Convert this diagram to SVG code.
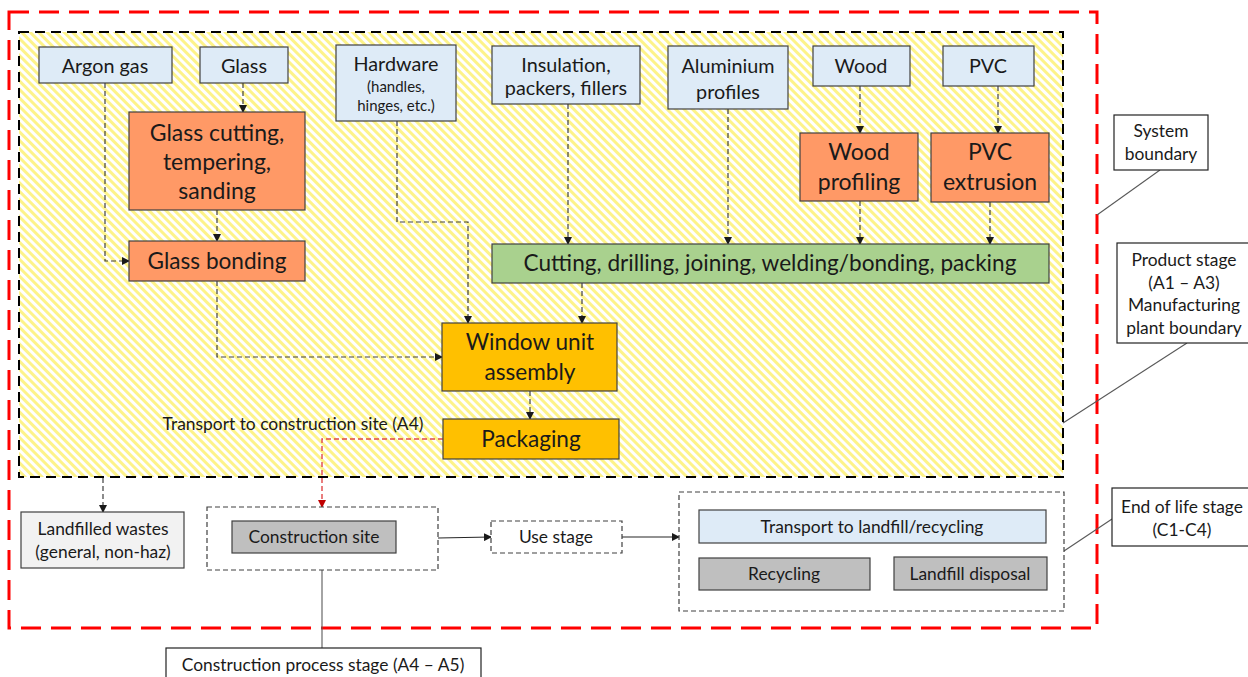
<svg xmlns="http://www.w3.org/2000/svg" width="1248" height="677" viewBox="0 0 1248 677">
<style>
text{font-family:Lato,"Open Sans","Liberation Sans",sans-serif;fill:#1a1a1a;text-anchor:middle;dominant-baseline:central}
.blue{fill:#DEEBF7;stroke:#404040;stroke-width:1.2}
.orange{fill:#FF9966;stroke:#404040;stroke-width:1.2}
.green{fill:#A9D18E;stroke:#404040;stroke-width:1.2}
.gold{fill:#FFC000;stroke:#404040;stroke-width:1.2}
.gray{fill:#BFBFBF;stroke:#404040;stroke-width:1.2}
.lgray{fill:#F2F2F2;stroke:#404040;stroke-width:1.2}
.label{fill:#fff;stroke:#222;stroke-width:1.2}
.grp{fill:#fff;stroke:#404040;stroke-width:1.2;stroke-dasharray:5 3}
.dash{fill:none;stroke:#404040;stroke-width:1.2;stroke-dasharray:5 3;marker-end:url(#ah)}
.red{fill:none;stroke:#E04848;stroke-width:1.4;stroke-dasharray:5 3;marker-end:url(#ahr)}
.solid{fill:none;stroke:#262626;stroke-width:1.2;marker-end:url(#ah)}
.call{fill:none;stroke:#595959;stroke-width:1.1}
.s19{font-size:19.8px}.s23{font-size:23px}.s21{font-size:22.6px}.s16{font-size:17.4px}.s14{font-size:15px}
</style>
<defs>
<pattern id="hatch" patternUnits="userSpaceOnUse" width="6" height="6" patternTransform="rotate(45)">
<rect width="6" height="6" fill="#ffffff"/>
<rect width="6" height="3" fill="#FDF38A"/>
</pattern>
<marker id="ah" markerWidth="8" markerHeight="8" refX="7" refY="4" orient="auto" markerUnits="userSpaceOnUse">
<path d="M0,0 L8,4 L0,8 z" fill="#1a1a1a"/>
</marker>
<marker id="ahr" markerWidth="8" markerHeight="8" refX="7" refY="4" orient="auto" markerUnits="userSpaceOnUse">
<path d="M0,0 L8,4 L0,8 z" fill="#C00000"/>
</marker>
</defs>
<rect width="1248" height="677" fill="#fff"/>
<g id="system-boundary">
<rect x="9" y="12" width="1088" height="616" fill="none" stroke="#FF0000" stroke-width="3" stroke-dasharray="20 10"/>
</g>
<g id="plant-boundary">
<rect x="19" y="32" width="1044" height="445" fill="url(#hatch)" stroke="#000" stroke-width="2" stroke-dasharray="10 6"/>
</g>
<g id="connectors">
<path class="dash" d="M243,83 V112"/>
<path class="dash" d="M105,83 V261 H129"/>
<path class="dash" d="M217,210 V241"/>
<path class="dash" d="M217,281 V357 H442"/>
<path class="dash" d="M397,121 V222 H468 V323"/>
<path class="dash" d="M568,104 V244"/>
<path class="dash" d="M728,109 V244"/>
<path class="dash" d="M860,86 V133"/>
<path class="dash" d="M998,86 V133"/>
<path class="dash" d="M860,201 V244"/>
<path class="dash" d="M990,202 V244"/>
<path class="dash" d="M582,283 V323"/>
<path class="dash" d="M530,391 V419"/>
<path class="red" d="M443,439 H322 V507"/>
<path class="dash" d="M103,478 V512"/>
<path class="solid" d="M438,538 L491,537"/>
<path class="solid" d="M622,537 H679"/>
<path class="call" d="M1160,170 L1097,215"/>
<path class="call" d="M1187,343 L1063,423"/>
<path class="call" d="M1112,519 L1064,551"/>
<path class="call" d="M322,570 V648"/>
</g>
<g id="argon"><rect class="blue" x="39" y="47" width="133" height="36"/><text class="s19" x="105" y="65">Argon gas</text></g>
<g id="glass"><rect class="blue" x="200" y="47" width="88" height="36"/><text class="s19" x="244" y="65">Glass</text></g>
<g id="glass-cutting"><rect class="orange" x="129" y="112" width="176" height="98"/><text class="s23" x="217" y="132">Glass cutting,</text><text class="s23" x="217" y="161">tempering,</text><text class="s23" x="217" y="190">sanding</text></g>
<g id="glass-bonding"><rect class="orange" x="129" y="241" width="176" height="40"/><text class="s21" x="217" y="260">Glass bonding</text></g>
<g id="hardware"><rect class="blue" x="336" y="45" width="120" height="76"/><text class="s19" x="396" y="63">Hardware</text><text class="s14" x="396" y="86">(handles,</text><text class="s14" x="396" y="105">hinges, etc.)</text></g>
<g id="insulation"><rect class="blue" x="492" y="46" width="148" height="58"/><text class="s19" x="566" y="64">Insulation,</text><text class="s19" x="566" y="87">packers, fillers</text></g>
<g id="aluminium"><rect class="blue" x="668" y="46" width="120" height="63"/><text class="s19" x="728" y="65">Aluminium</text><text class="s19" x="728" y="91">profiles</text></g>
<g id="wood"><rect class="blue" x="813" y="46" width="97" height="40"/><text class="s19" x="861" y="65">Wood</text></g>
<g id="pvc"><rect class="blue" x="943" y="46" width="91" height="40"/><text class="s19" x="988" y="65">PVC</text></g>
<g id="wood-profiling"><rect class="orange" x="800" y="133" width="118" height="68"/><text class="s23" x="859" y="151">Wood</text><text class="s23" x="859" y="181">profiling</text></g>
<g id="pvc-extrusion"><rect class="orange" x="931" y="133" width="118" height="69"/><text class="s23" x="990" y="151">PVC</text><text class="s23" x="990" y="181">extrusion</text></g>
<g id="cutting"><rect class="green" x="492" y="244" width="557" height="39"/><text class="s21" x="770" y="262">Cutting, drilling, joining, welding/bonding, packing</text></g>
<g id="window-assembly"><rect class="gold" x="442" y="323" width="175" height="68"/><text class="s21" x="530" y="341">Window unit</text><text class="s21" x="530" y="371">assembly</text></g>
<g id="packaging"><rect class="gold" x="443" y="419" width="176" height="40"/><text class="s21" x="531" y="438">Packaging</text></g>
<g id="transport-label"><text class="s16" x="293" y="423">Transport to construction site (A4)</text></g>
<g id="landfilled"><rect class="lgray" x="21" y="512" width="163" height="56"/><text class="s16" x="103" y="528">Landfilled wastes</text><text class="s16" x="103" y="551">(general, non-haz)</text></g>
<g id="construction-group"><rect class="grp" x="207" y="507" width="231" height="63"/><rect class="gray" x="232" y="521" width="164" height="32"/><text class="s16" x="314" y="536">Construction site</text></g>
<g id="use-stage"><rect class="grp" x="491" y="521" width="131" height="32"/><text class="s16" x="556" y="536">Use stage</text></g>
<g id="eol-group"><rect class="grp" x="679" y="492" width="385" height="119"/>
<rect class="blue" x="699" y="510" width="347" height="33"/><text class="s16" x="872" y="526">Transport to landfill/recycling</text>
<rect class="gray" x="699" y="558" width="171" height="32"/><text class="s16" x="784" y="573">Recycling</text>
<rect class="gray" x="894" y="557" width="153" height="33"/><text class="s16" x="970" y="573">Landfill disposal</text></g>
<g id="system-label"><rect class="label" x="1114" y="115" width="94" height="55"/><text class="s16" x="1161" y="130">System</text><text class="s16" x="1161" y="153">boundary</text></g>
<g id="product-label"><rect class="label" x="1117" y="243" width="134" height="100"/><text class="s16" x="1184" y="259">Product stage</text><text class="s16" x="1184" y="282">(A1 – A3)</text><text class="s16" x="1184" y="304">Manufacturing</text><text class="s16" x="1184" y="327">plant boundary</text></g>
<g id="eol-label"><rect class="label" x="1112" y="488" width="139" height="58"/><text class="s16" x="1182" y="506">End of life stage</text><text class="s16" x="1182" y="529">(C1-C4)</text></g>
<g id="construction-label"><rect class="label" x="166" y="648" width="315" height="35"/><text class="s16" x="323" y="664">Construction process stage (A4 – A5)</text></g>
</svg>
